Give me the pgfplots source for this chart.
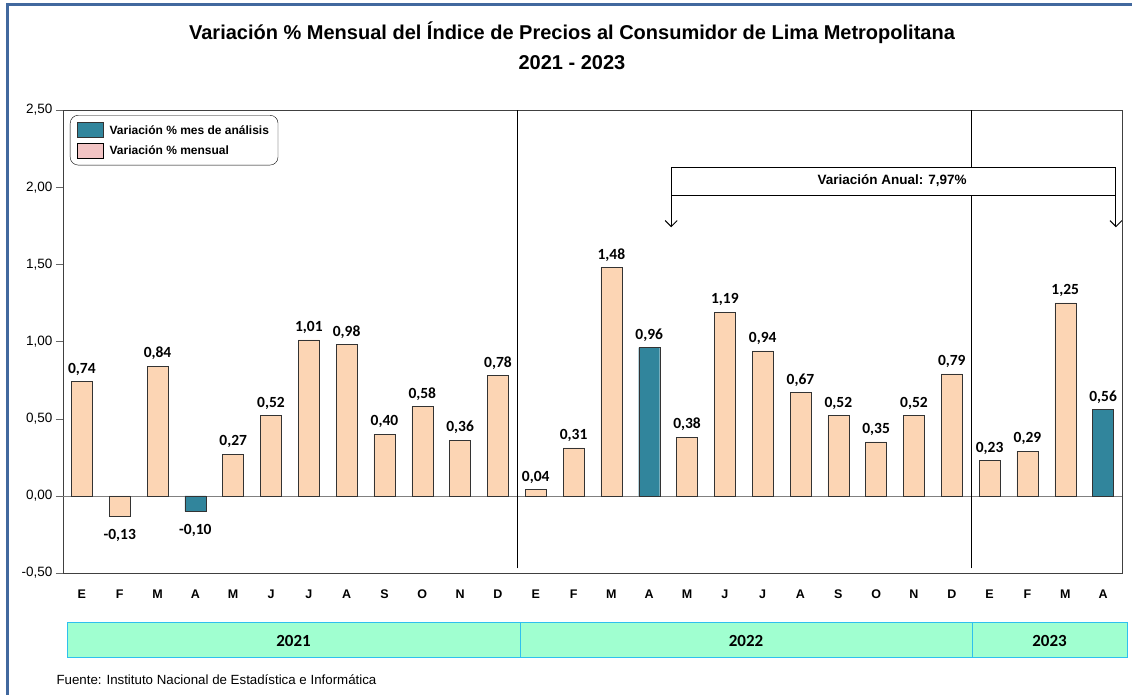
\documentclass[border=0pt]{standalone}
\usepackage{pgfplots}
\pgfplotsset{compat=1.18}
\usetikzlibrary{arrows.meta}
\usepackage{fontspec}
\setmainfont{Liberation Sans}
\newfontfamily\carlito{Carlito}

\definecolor{peach}{HTML}{FCD5B4}
\definecolor{tealbar}{HTML}{31859C}
\definecolor{legpink}{HTML}{F2C4C4}
\definecolor{mint}{HTML}{A0FFD0}
\definecolor{bandline}{HTML}{2FC0EE}
\definecolor{frameblue}{HTML}{41689E}

\pgfplotsset{rectlegend/.style={legend image code/.code={\draw[##1, sharp corners] (0pt,-7pt) rectangle (26pt,8pt); \path (30pt,0pt);}}}

\begin{document}
\begin{tikzpicture}[x=1pt,y=1pt]
\path[use as bounding box] (0,0) rectangle (1132,695);
\fill[white] (0,0) rectangle (1132,695);
\draw[frameblue, line width=3pt] (7.5,0) -- (7.5,690) -- (1132,690);

% titulo
\node[font=\bfseries\fontsize{20}{22}\selectfont] at (572,662) {Variación \% Mensual del Índice de Precios al Consumidor de Lima Metropolitana};
\node[font=\bfseries\fontsize{20}{22}\selectfont] at (572,632) {2021 - 2023};

\begin{axis}[
    at={(63pt,122pt)}, anchor=south west,
    scale only axis, width=1059pt, height=463pt,
    xmin=-0.5, xmax=27.5, ymin=-0.5, ymax=2.5,
    ybar, bar width=21pt,
    xtick={0,...,27},
    xticklabels={E,F,M,A,M,J,J,A,S,O,N,D,E,F,M,A,M,J,J,A,S,O,N,D,E,F,M,A},
    ytick={-0.5,0,0.5,1,1.5,2,2.5},
    x tick style={draw=none},
    ytick pos=left, tick align=outside, major tick length=7pt,
    y tick style={black!60},
    axis line style={black!75},
    xticklabel style={font=\bfseries\fontsize{12.5}{14}\selectfont, yshift=-6pt},
    yticklabel style={font=\fontsize{13.5}{15}\selectfont},
    /pgf/number format/fixed,
    /pgf/number format/fixed zerofill,
    /pgf/number format/precision=2,
    /pgf/number format/use comma,
    /pgf/number format/assume math mode=true,
    nodes near coords,
    visualization depends on={rawy \as \rawyval},
    every node near coord/.append style={font=\carlito\bfseries\fontsize{15.5}{16}\selectfont,
        inner sep=6pt, yshift={-7*(\rawyval<0)}},
    legend style={at={(0.0066,0.989)}, anchor=north west, draw=black, rounded corners=8pt,
        font=\bfseries\fontsize{12}{14}\selectfont, inner xsep=7pt, inner ysep=7pt,
        row sep=5pt, cells={anchor=west}},
]
\draw[gray] (axis cs:-0.5,0) -- (axis cs:27.5,0);

\addplot[rectlegend, bar shift=0pt, fill=tealbar, draw=black!80] coordinates {
    (3,-0.10) (15,0.96) (27,0.56)
};
\addlegendentry{Variación \% mes de análisis}
\addlegendimage{rectlegend, fill=legpink, draw=black}
\addlegendentry{Variación \% mensual}

\addplot[bar shift=0pt, fill=peach, draw=black!80, forget plot] coordinates {
    (0,0.74) (1,-0.13) (2,0.84) (4,0.27) (5,0.52) (6,1.01) (7,0.98)
    (8,0.40) (9,0.58) (10,0.36) (11,0.78)
    (12,0.04) (13,0.31) (14,1.48) (16,0.38) (17,1.19) (18,0.94)
    (19,0.67) (20,0.52) (21,0.35) (22,0.52) (23,0.79)
    (24,0.23) (25,0.29) (26,1.25)
};

% separadores de año
\draw[black] (axis cs:11.5,-0.47) -- (axis cs:11.5,2.5);
\draw[black] (axis cs:23.5,-0.47) -- (axis cs:23.5,2.5);

% variacion anual
\draw[black, line width=1pt, fill=white] (axis cs:15.58,1.948) rectangle (axis cs:27.34,2.130);
\node[font=\bfseries\fontsize{13.5}{15}\selectfont] at (axis cs:21.42,2.04) {Variación Anual: 7,97\%};
\draw[black, line width=1pt, -{Straight Barb[length=6pt, width=12pt]}] (axis cs:15.58,1.948) -- (axis cs:15.58,1.74);
\draw[black, line width=1pt, -{Straight Barb[length=6pt, width=12pt]}] (axis cs:27.34,1.948) -- (axis cs:27.34,1.74);
\end{axis}

% bandas de años
\draw[bandline, fill=mint, line width=1pt] (67,37) rectangle (520,72);
\draw[bandline, fill=mint, line width=1pt] (520,37) rectangle (972,72);
\draw[bandline, fill=mint, line width=1pt] (972,37) rectangle (1127,72);
\node[font=\carlito\bfseries\fontsize{17}{17}\selectfont] at (293.5,54.5) {2021};
\node[font=\carlito\bfseries\fontsize{17}{17}\selectfont] at (746,54.5) {2022};
\node[font=\carlito\bfseries\fontsize{17}{17}\selectfont] at (1049.5,54.5) {2023};

\node[anchor=west, font=\fontsize{13.3}{15}\selectfont] at (53,15) {Fuente: Instituto Nacional de Estadística e Informática};
\end{tikzpicture}
\end{document}
